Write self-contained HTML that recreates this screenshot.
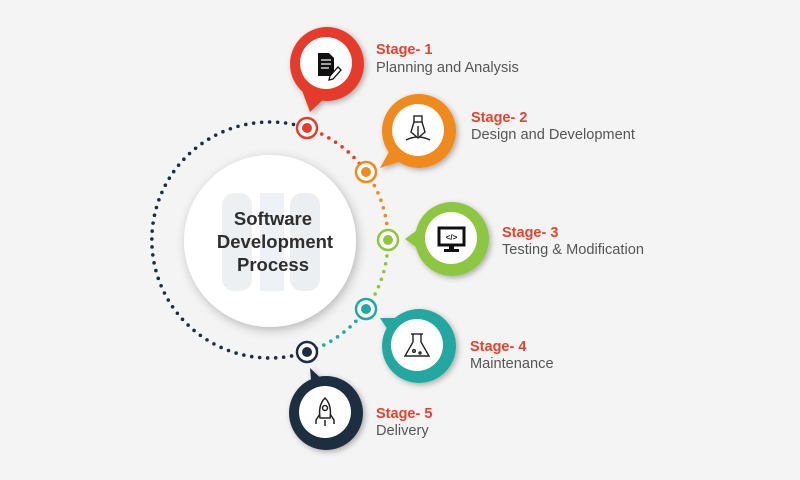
<!DOCTYPE html>
<html><head><meta charset="utf-8"><style>
html,body{margin:0;padding:0;background:#f4f4f4;}
svg{display:block}
.t{font-family:"Liberation Sans",sans-serif;}
</style></head><body>
<svg width="800" height="480" viewBox="0 0 800 480" xmlns="http://www.w3.org/2000/svg">
<defs>
<filter id="sh" x="-30%" y="-30%" width="160%" height="160%"><feDropShadow dx="2" dy="3" stdDeviation="5" flood-color="#000" flood-opacity="0.25"/></filter>
<filter id="sh2" x="-30%" y="-30%" width="160%" height="160%"><feDropShadow dx="2" dy="2" stdDeviation="3" flood-color="#000" flood-opacity="0.3"/></filter>
</defs>
<rect width="800" height="480" fill="#f4f4f4"/>
<g fill="none" stroke-width="3.6" stroke-linecap="round" stroke-dasharray="0 8">
<path d="M307,352 A118,118 0 1 1 307,128" stroke="#1f2d40"/>
<path d="M307,128 A118,118 0 0 1 366,172" stroke="#e63b2a"/>
<path d="M366,172 A118,118 0 0 1 388,240" stroke="#f08a1c"/>
<path d="M388,240 A118,118 0 0 1 366,309" stroke="#8dc63f"/>
<path d="M366,309 A118,118 0 0 1 307,352" stroke="#21a8a0"/>
</g>
<circle cx="270" cy="241" r="86" fill="#fff" filter="url(#sh)"/>
<g fill="#e4e9ec" opacity="0.7">
<rect x="222" y="193" width="30" height="98" rx="12"/>
<rect x="260" y="193" width="24" height="98" fill="#e8edf5"/>
<rect x="290" y="193" width="30" height="98" rx="12"/>
</g>
<g class="t" font-weight="bold" font-size="18.5" fill="#2e2e2e" text-anchor="middle">
<text x="273" y="225">Software</text>
<text x="275" y="248">Development</text>
<text x="273" y="271">Process</text>
</g>
<g>
<circle cx="307" cy="128" r="10" fill="#fff" stroke="#e63b2a" stroke-width="2.5"/><circle cx="307" cy="128" r="5" fill="#e63b2a"/>
<circle cx="366" cy="172" r="10" fill="#fff" stroke="#f08a1c" stroke-width="2.5"/><circle cx="366" cy="172" r="5" fill="#f08a1c"/>
<circle cx="388" cy="240" r="10" fill="#fff" stroke="#8dc63f" stroke-width="2.5"/><circle cx="388" cy="240" r="5" fill="#8dc63f"/>
<circle cx="366" cy="309" r="10" fill="#fff" stroke="#21a8a0" stroke-width="2.5"/><circle cx="366" cy="309" r="5" fill="#21a8a0"/>
<circle cx="307" cy="352" r="10" fill="#fff" stroke="#1f2d40" stroke-width="2.5"/><circle cx="307" cy="352" r="5" fill="#1f2d40"/>
</g>
<g filter="url(#sh2)">
<path d="M300,85 L310,112 L325,98 Z" fill="#e63b2a"/><circle cx="327" cy="64" r="37" fill="#e63b2a"/>
<path d="M390,150 L380,168 L405,160 Z" fill="#f08a1c"/><circle cx="419" cy="131" r="37" fill="#f08a1c"/>
<path d="M420,228 L405,239 L420,250 Z" fill="#8dc63f"/><circle cx="452" cy="239" r="37" fill="#8dc63f"/>
<path d="M380,318 L392,336 L405,318 Z" fill="#21a8a0"/><circle cx="419" cy="346" r="37" fill="#21a8a0"/>
<path d="M310,368 L312,390 L328,385 Z" fill="#1f2d40"/><circle cx="326" cy="413" r="37" fill="#1f2d40"/>
</g>
<g fill="#fff">
<circle cx="326" cy="63" r="26"/><circle cx="418" cy="130" r="26"/><circle cx="451" cy="238" r="26"/><circle cx="417" cy="345" r="26"/><circle cx="325" cy="412" r="26"/>
</g>
<g>
<path d="M318,53 h11 l5,5 v18 h-16 z" fill="#111"/>
<g stroke="#fff" stroke-width="1.2"><line x1="321" y1="60" x2="331" y2="60"/><line x1="321" y1="64" x2="331" y2="64"/><line x1="321" y1="68" x2="329" y2="68"/></g>
<path d="M330,76 l8,-9 l3,3 l-8,9 l-4,1 z" fill="#fff" stroke="#111" stroke-width="1.3"/>
</g>
<g fill="none" stroke="#222" stroke-width="1.4">
<rect x="414" y="116" width="8" height="6"/><path d="M414,122 l-3,10 l7,6 l7,-6 l-3,-10"/><line x1="418" y1="126" x2="418" y2="136"/><path d="M406,140 q12,-6 24,0"/>
</g>
<g>
<rect x="439" y="228" width="25" height="17" fill="none" stroke="#111" stroke-width="3"/>
<rect x="449" y="245" width="5" height="4" fill="#111"/><rect x="444" y="249" width="15" height="3" fill="#111"/>
<text x="451.5" y="240" class="t" font-size="8" font-weight="bold" text-anchor="middle" fill="#111">&lt;/&gt;</text>
</g>
<g fill="none" stroke="#222" stroke-width="1.4">
<path d="M413,334 v8 l-8,14 h24 l-8,-14 v-8"/><line x1="411" y1="334" x2="423" y2="334"/><circle cx="414" cy="351" r="1.3"/><circle cx="420" cy="353" r="1"/>
</g>
<g fill="none" stroke="#222" stroke-width="1.5">
<path d="M325,398 q7,7 5,20 h-10 q-2,-13 5,-20 z"/><circle cx="325" cy="408" r="2.5"/><path d="M320,414 l-4,6 v4 M330,414 l4,6 v4 M325,420 v6"/>
</g>
<g class="t" font-size="14.5" font-weight="bold" fill="#e4432d">
<text x="376" y="54">Stage- 1</text>
<text x="471" y="122">Stage- 2</text>
<text x="502" y="237">Stage- 3</text>
<text x="470" y="351">Stage- 4</text>
<text x="376" y="418">Stage- 5</text>
</g>
<g class="t" font-size="14.6" fill="#555">
<text x="376" y="72">Planning and Analysis</text>
<text x="471" y="139">Design and Development</text>
<text x="502" y="254">Testing &amp; Modification</text>
<text x="470" y="368">Maintenance</text>
<text x="376" y="435">Delivery</text>
</g>
</svg>
</body></html>
